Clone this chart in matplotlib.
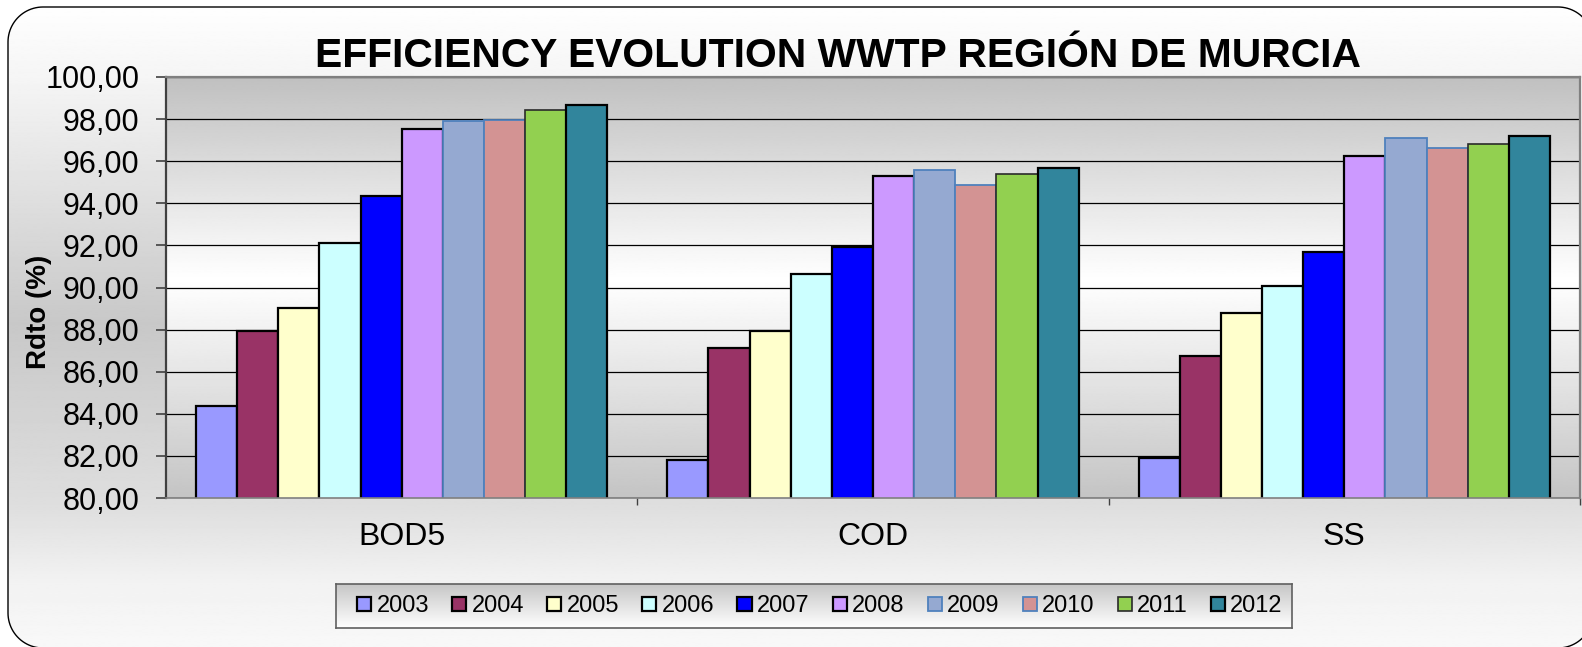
import numpy as np
import matplotlib
matplotlib.use('Agg')
import matplotlib.pyplot as plt
from matplotlib.patches import Polygon
from matplotlib.ticker import FuncFormatter

plt.rcParams['font.family'] = ['Liberation Sans', 'DejaVu Sans']

# ---------------- data ----------------
categories = ['BOD5', 'COD', 'SS']
years = ['2003', '2004', '2005', '2006', '2007', '2008', '2009', '2010', '2011', '2012']
v2003 = [84.38, 81.81, 81.92]
v2004 = [87.92, 87.13, 86.73]
v2005 = [89.03, 87.95, 88.79]
v2006 = [92.13, 90.62, 90.05]
v2007 = [94.35, 91.92, 91.71]
v2008 = [97.51, 95.30, 96.25]
v2009 = [97.89, 95.56, 97.10]
v2010 = [97.94, 94.89, 96.62]
v2011 = [98.41, 95.41, 96.81]
v2012 = [98.65, 95.67, 97.20]
series = [v2003, v2004, v2005, v2006, v2007, v2008, v2009, v2010, v2011, v2012]
yticks = [80, 82, 84, 86, 88, 90, 92, 94, 96, 98, 100]
title = 'EFFICIENCY EVOLUTION WWTP REGIÓN DE MURCIA'
ylabel = 'Rdto (%)'

# ---------------- styles ----------------
fills = ['#9999FF', '#993366', '#FFFFCC', '#CCFFFF', '#0000FF',
         '#CC99FF', '#95A9D1', '#D39393', '#92D050', '#31859C']
edges = ['#000000', '#000000', '#000000', '#000000', '#000000',
         '#000000', '#4F81BD', '#4F81BD', '#2A2A2A', '#000000']
lws = [1.6, 1.6, 1.6, 1.6, 1.6, 1.6, 1.3, 1.3, 1.2, 1.6]

W, H = 1582, 647
fig = plt.figure(figsize=(W / 100, H / 100), dpi=100)
fig.patch.set_facecolor('white')

# background with rounded border and vertical gradient
bg = fig.add_axes([0, 0, 1, 1], zorder=-10)
bg.axis('off')
t = np.linspace(0, 1, 512)
g = np.interp(t, [0, 0.12, 0.5, 0.78, 0.9, 1.0], [255, 245, 200, 222, 242, 248]) / 255
img = np.repeat(g[:, None], 2, axis=1)
im = bg.imshow(img, cmap='gray', vmin=0, vmax=1, extent=[0, W, H, 0],
               aspect='auto', interpolation='bilinear')
bg.set_xlim(0, W)
bg.set_ylim(H, 0)

# rounded frame as a polyline (left/top at 8/7, right/bottom beyond canvas)
bx0, by0, bx1, by1, r = 8, 7, 1593, 648, 35
pts = []
for cx, cy, a0 in [(bx1 - r, by0 + r, -90), (bx1 - r, by1 - r, 0),
                   (bx0 + r, by1 - r, 90), (bx0 + r, by0 + r, 180)]:
    ang = np.radians(np.linspace(a0, a0 + 90, 24))
    pts += list(zip(cx + r * np.cos(ang), cy + r * np.sin(ang)))
frame = Polygon(pts, closed=True, facecolor='none', edgecolor='black', linewidth=1.0)
bg.add_patch(frame)
im.set_clip_path(frame)

# main axes
x0, x1, y0, y1 = 166, 1580, 77, 498
ax = fig.add_axes([x0 / W, 1 - y1 / H, (x1 - x0) / W, (y1 - y0) / H])
pg = np.interp(t, [0, 0.48, 1.0], [192, 255, 196]) / 255
ax.imshow(np.repeat(pg[:, None], 2, axis=1), cmap='gray', vmin=0, vmax=1,
          extent=[-0.5, 2.5, 80, 100], aspect='auto', interpolation='bilinear', zorder=0)

xpos = np.arange(len(categories))
w = 0.0873
handles = []
for i, (vals, yr) in enumerate(zip(series, years)):
    b = ax.bar(xpos + (i - 4.5) * w, vals, width=w, color=fills[i],
               edgecolor=edges[i], linewidth=lws[i], label=yr, zorder=2)
    handles.append(b)

ax.set_xlim(-0.5, 2.5)
ax.set_ylim(80, 100)
ax.set_yticks(yticks)
ax.yaxis.set_major_formatter(FuncFormatter(lambda v, p: f'{v:.2f}'.replace('.', ',')))
ax.yaxis.grid(True, color='black', linewidth=0.9, zorder=1)
ax.set_axisbelow(True)
ax.tick_params(axis='y', direction='out', length=7, width=1.2, color='#404040',
               labelsize=22, pad=12)
ax.set_xticks(xpos)
ax.set_xticklabels(categories, fontsize=23)
ax.tick_params(axis='x', which='major', length=0, pad=17)
ax.set_xticks([0.5, 1.5, 2.5], minor=True)
ax.tick_params(axis='x', which='minor', direction='out', length=5, width=1.0, color='#404040')
for s in ['top', 'right']:
    ax.spines[s].set_color('#808080')
    ax.spines[s].set_linewidth(1.6)
ax.spines['left'].set_color('#404040')
ax.spines['left'].set_linewidth(1.6)
ax.spines['bottom'].set_color('#808080')
ax.spines['bottom'].set_linewidth(1.2)

# title and y label
fig.text(838 / W, 1 - 67 / H, title, fontsize=29.3, fontweight='bold',
         ha='center', va='baseline')
fig.text(39 / W, 1 - 312 / H, ylabel, fontsize=20, fontweight='bold',
         rotation=90, ha='center', va='center')

# legend background box
lx0, lx1, ly0, ly1 = 336, 1292, 584, 628
lax = fig.add_axes([lx0 / W, 1 - ly1 / H, (lx1 - lx0) / W, (ly1 - ly0) / H], zorder=1)
lg = np.interp(t, [0, 1.0], [198, 255]) / 255
lax.imshow(np.repeat(lg[:, None], 2, axis=1), cmap='gray', vmin=0, vmax=1,
           extent=[0, 1, 0, 1], aspect='auto', interpolation='bilinear')
lax.set_xticks([])
lax.set_yticks([])
for s in lax.spines.values():
    s.set_color('#606060')
    s.set_linewidth(1.2)

leg = fig.legend(handles, years, ncol=10, loc='center',
                 bbox_to_anchor=((lx0 + lx1) / 2 / W + 6 / W, 1 - (ly0 + ly1) / 2 / H),
                 frameon=False, fontsize=17, handlelength=0.6, handleheight=0.55,
                 handletextpad=0.22, columnspacing=0.98, borderpad=0)
leg.set_zorder(10)

fig.savefig('out.png', dpi=100)
